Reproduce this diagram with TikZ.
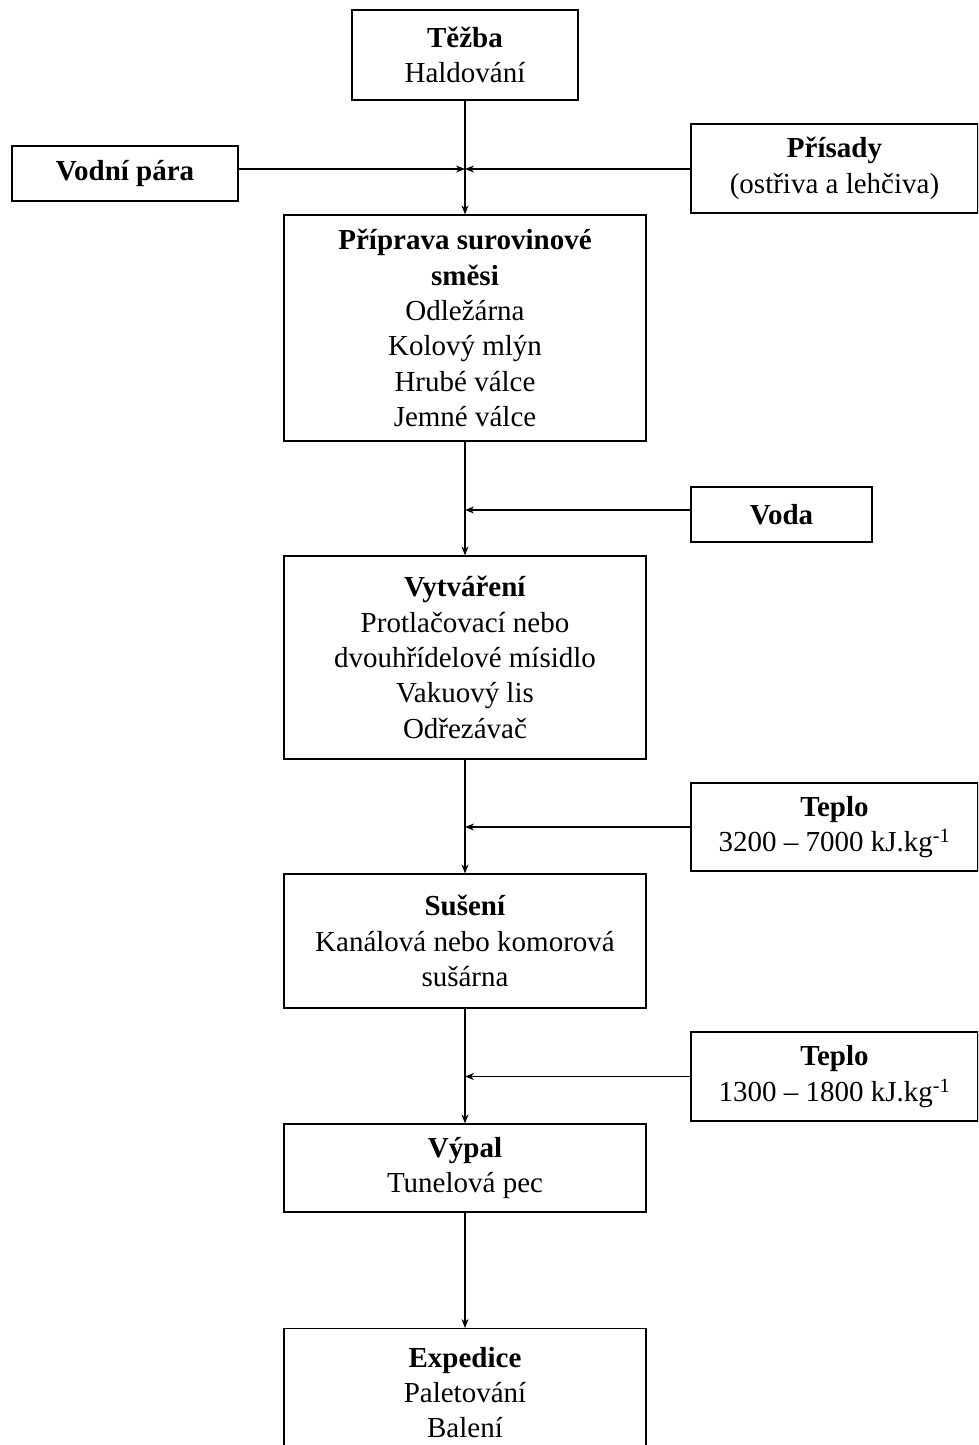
\documentclass[tikz,border=0pt]{standalone}
\usepackage{fontspec}
\setmainfont{Liberation Serif}
\usetikzlibrary{arrows.meta}
\tikzset{
        stepbox/.style={draw, line width=1.2pt, align=center, inner sep=0pt,
                font=\fontsize{29}{35.3}\selectfont},
        flow/.style={line width=1.2pt, -{Stealth[length=9pt,width=7pt]}}
}
\begin{document}
\begin{tikzpicture}[x=1pt,y=-1pt]
        \def\wide{362pt}
        \def\side{287pt}
        \useasboundingbox (0,0) rectangle (978,1445);
        \clip (0,0) rectangle (978,1445);
        %% main line
        \node[stepbox, minimum width=226pt, minimum height=90pt] (tezba) at (465,55) {\textbf{Těžba}\\Haldování};
        \node[stepbox, minimum width=\wide, minimum height=226pt] (priprava) at (465,328) {\textbf{Příprava surovinové}\\\textbf{směsi}\\Odležárna\\Kolový mlýn\\Hrubé válce\\Jemné válce};
        \node[stepbox, minimum width=\wide, minimum height=203pt] (vytvareni) at (465,657.5) {\textbf{Vytváření}\\Protlačovací nebo\\dvouhřídelové mísidlo\\Vakuový lis\\Odřezávač};
        \node[stepbox, minimum width=\wide, minimum height=134pt] (suseni) at (465,941) {\textbf{Sušení}\\Kanálová nebo komorová\\sušárna};
        \node[stepbox, minimum width=\wide, minimum height=88pt] (vypal) at (465,1168) {\textbf{Výpal}\\Tunelová pec};
        \node[stepbox, minimum width=\wide, minimum height=128pt, anchor=north] (expedice) at (465,1328) {\textbf{Expedice}\\Paletování\\Balení};
        %% inputs
        \node[stepbox, minimum width=226pt, minimum height=55pt] (para) at (125,173.5) {\textbf{Vodní pára}};
        \node[stepbox, minimum width=\side, minimum height=89pt] (prisady) at (834.5,168.5) {\textbf{Přísady}\\(ostřiva a lehčiva)};
        \node[stepbox, minimum width=181pt, minimum height=55pt] (voda) at (781.5,514.5) {\textbf{Voda}};
        \node[stepbox, minimum width=\side, minimum height=88pt] (teplo1) at (834.5,827) {\textbf{Teplo}\\3200 -- 7000 kJ.kg\textsuperscript{-1}};
        \node[stepbox, minimum width=\side, minimum height=89pt] (teplo2) at (834.5,1076.5) {\textbf{Teplo}\\1300 -- 1800 kJ.kg\textsuperscript{-1}};
        %% connectors
        \coordinate (join) at (465,169);
        \draw[flow] (tezba) -- (priprava);
        \draw[flow] (priprava) -- (vytvareni);
        \draw[flow] (vytvareni) -- (suseni);
        \draw[flow] (suseni) -- (vypal);
        \draw[flow] (vypal) -- (expedice);
        \draw[flow] (para.east |- join) -- (join);
        \draw[flow] (prisady.west |- join) -- (join);
        \draw[flow] ([yshift=4.5pt]voda.west) -- ([yshift=4.5pt]voda.west -| priprava);
        \draw[flow] (teplo1.west) -- (teplo1.west -| vytvareni);
        \draw[flow] (teplo2.west) -- (teplo2.west -| suseni);
\end{tikzpicture}
\end{document}
